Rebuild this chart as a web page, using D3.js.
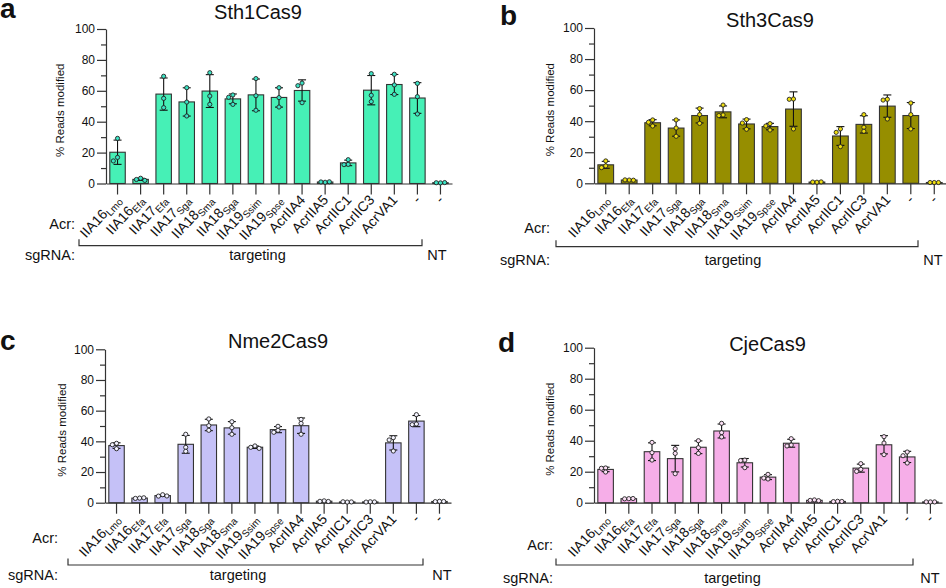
<!DOCTYPE html>
<html>
<head>
<meta charset="utf-8">
<script src="https://cdn.jsdelivr.net/npm/d3@7"></script>
<style>
  body { margin: 0; background: #fff; }
  svg text { font-family: "Liberation Sans", Arial, sans-serif; fill: #111; }
</style>
</head>
<body>
<script>
// Tick labels: [main, subscript]
const labelsA = [["IIA16", "Lmo"], ["IIA16", "Efa"], ["IIA17", "Efa"], ["IIA17", "Sga"], ["IIA18", "Sma"], ["IIA18", "Sga"],
  ["IIA19", "Ssim"], ["IIA19", "Spse"], ["AcrIIA4", ""], ["AcrIIA5", ""], ["AcrIIC1", ""], ["AcrIIC3", ""], ["AcrVA1", ""], ["-", ""], ["-", ""]];
const labelsB = [["IIA16", "Lmo"], ["IIA16", "Efa"], ["IIA17", "Efa"], ["IIA17", "Sga"], ["IIA18", "Sga"], ["IIA18", "Sma"],
  ["IIA19", "Ssim"], ["IIA19", "Spse"], ["AcrIIA4", ""], ["AcrIIA5", ""], ["AcrIIC1", ""], ["AcrIIC3", ""], ["AcrVA1", ""], ["-", ""], ["-", ""]];

const titles = ["Sth1Cas9", "Sth3Cas9", "Nme2Cas9", "CjeCas9"];
const yTicks = [0, 20, 40, 60, 80, 100];
const yMinor = [10, 30, 50, 70, 90];

// replicate values (% reads modified), three per condition
const repsSth1 = [[29.2, 16.9, 14.6], [3.4, 2.6, 2.0], [69.4, 55.1, 49.1], [62.0, 52.7, 43.7], [71.7, 56.6, 51.2], [57.3, 55.8, 51.2],
  [67.9, 56.8, 47.4], [62.0, 55.6, 49.5], [65.0, 63.3, 52.3], [0.8, 1.0, 1.1], [15.4, 12.4, 12.2], [71.1, 57.1, 53.0],
  [70.7, 63.8, 57.7], [64.8, 56.2, 45.0], [0.4, 0.5, 0.6]];
const repsSth3 = [[14.4, 11.2, 10.1], [2.1, 2.2, 2.0], [40.8, 39.3, 36.9], [40.8, 35.6, 30.3], [48.1, 44.2, 38.6], [50.4, 44.0, 43.6],
  [41.0, 38.8, 34.8], [38.4, 36.9, 34.3], [54.3, 54.1, 35.0], [0.7, 0.8, 0.9], [35.0, 32.8, 23.6], [44.2, 36.1, 33.5],
  [54.1, 53.6, 41.4], [51.7, 44.2, 35.0], [0.5, 0.5, 0.5]];
const repsNme2 = [[38.7, 37.8, 35.2], [3.0, 2.8, 3.2], [5.2, 4.3, 4.4], [44.6, 36.1, 33.5], [54.6, 50.2, 47.2], [52.8, 48.9, 44.6],
  [37.0, 36.1, 35.4], [49.8, 47.2, 45.9], [54.3, 51.7, 44.6], [1.2, 0.9, 0.8], [0.4, 0.6, 0.5], [0.6, 0.4, 0.5],
  [42.4, 40.9, 33.7], [57.4, 51.3, 50.9], [0.9, 0.7, 0.8]];
const repsCje = [[22.4, 22.2, 19.8], [2.6, 2.5, 2.7], [38.9, 32.3, 27.5], [34.8, 31.8, 18.7], [40.0, 35.5, 31.8], [51.2, 45.2, 42.4],
  [27.5, 27.2, 22.6], [18.3, 15.9, 15.3], [41.3, 37.2, 36.6], [1.8, 1.5, 1.3], [0.9, 0.7, 0.8], [25.2, 21.5, 20.2],
  [42.6, 38.5, 31.0], [32.7, 30.3, 25.6], [0.5, 0.5, 0.5]];

const panels = [
  { letter: "a", title: titles[0], labels: labelsA, reps: repsSth1, fill: "#46F0B6", dot: "#3CE3C4",
    x0: 106, x1: 452, y0: 183.5, y100: 29, titleX: 258, titleY: 19, letterX: 0, letterY: 18, ylabX: 64,
    sideX: 75, acrY: 229, sgY: 260, brY: 245.7, brL: 79, brR: 422, tgX: 257.5, ntX: 437 },
  { letter: "b", title: titles[1], labels: labelsB, reps: repsSth3, fill: "#968E00", dot: "#EEDD10",
    x0: 594, x1: 946, y0: 183.3, y100: 28, titleX: 770, titleY: 27, letterX: 500, letterY: 25, ylabX: 554,
    sideX: 550, acrY: 233, sgY: 265, brY: 246.7, brL: 556, brR: 918, tgX: 733, ntX: 933 },
  { letter: "c", title: titles[2], labels: labelsB, reps: repsNme2, fill: "#C5C1F7", dot: "#F4F3FF",
    x0: 105, x1: 451, y0: 502.7, y100: 349.3, titleX: 278, titleY: 348, letterX: 0, letterY: 350, ylabX: 66,
    sideX: 58, acrY: 543, sgY: 580, brY: 565, brL: 68, brR: 423, tgX: 238, ntX: 442 },
  { letter: "d", title: titles[3], labels: labelsB, reps: repsCje, fill: "#F6AEE8", dot: "#FCE0F6",
    x0: 594, x1: 942, y0: 502.7, y100: 347.7, titleX: 767.5, titleY: 351, letterX: 498, letterY: 352, ylabX: 554,
    sideX: 553, acrY: 550, sgY: 583, brY: 565, brL: 556, brR: 913, tgX: 732.5, ntX: 930 }
];

const svg = d3.select("body").append("svg").attr("width", 946).attr("height", 588);
const ink = "#333";
const dotR = 2.1;

// place replicate dots; shift sideways only where they would overlap
function spread(vals, y, r) {
  const placed = [];
  const offs = [0, -1, 1, -2, 2];
  return vals.map(v => {
    const py = y(v);
    let off = 0;
    for (let k = 0; k < offs.length; k++) {
      off = offs[k] * r * 2;
      if (placed.every(p => Math.hypot(p[0] - off, p[1] - py) >= r * 2 - 0.3)) break;
    }
    placed.push([off, py]);
    return [off, py];
  });
}

panels.forEach(p => {
  const g = svg.append("g");
  const idx = d3.range(p.labels.length);
  const x = d3.scaleBand().domain(idx).range([p.x0, p.x1]).paddingInner(0.33).paddingOuter(0.165);
  const y = d3.scaleLinear().domain([0, 100]).range([p.y0, p.y100]);
  const bw = x.bandwidth();
  const cx = i => x(i) + bw / 2;

  g.append("text").attr("x", p.letterX).attr("y", p.letterY)
    .style("font-size", "28px").style("font-weight", "bold").text(p.letter);
  g.append("text").attr("x", p.titleX).attr("y", p.titleY).attr("text-anchor", "middle")
    .style("font-size", "20px").text(p.title);

  // y axis
  const ya = g.append("g").attr("transform", `translate(${p.x0},0)`)
    .call(d3.axisLeft(y).tickValues(yTicks).tickSize(9).tickPadding(2).tickSizeOuter(0));
  g.append("g").attr("transform", `translate(${p.x0},0)`)
    .call(d3.axisLeft(y).tickValues(yMinor).tickSize(5).tickFormat("").tickSizeOuter(0))
    .select(".domain").remove();
  ya.selectAll("text").style("font-size", "12px").style("font-family", "Liberation Sans, Arial, sans-serif").attr("fill", "#111");

  g.append("text")
    .attr("transform", `translate(${p.ylabX},${(p.y0 + p.y100) / 2 + 4}) rotate(-90)`)
    .attr("text-anchor", "middle").style("font-size", "11.5px").text("% Reads modified");

  // x axis
  g.append("g").attr("transform", `translate(0,${p.y0})`)
    .call(d3.axisBottom(x).tickSize(11).tickFormat("").tickSizeOuter(0));
  g.selectAll(".domain, .tick line").attr("stroke", ink).attr("stroke-width", 1.2);

  // bars
  const stats = p.reps.map(r => ({ m: d3.mean(r), s: d3.deviation(r) }));
  g.selectAll(".bar").data(stats).enter().append("rect")
    .attr("x", (d, i) => x(i)).attr("width", bw)
    .attr("y", d => y(d.m)).attr("height", d => p.y0 - y(d.m))
    .attr("fill", p.fill).attr("stroke", ink).attr("stroke-width", 1.1);

  // error bars (mean ± SD)
  const eb = g.selectAll(".err").data(stats).enter().append("g")
    .attr("stroke", "#111").attr("stroke-width", 1.1);
  eb.append("line").attr("x1", (d, i) => cx(i)).attr("x2", (d, i) => cx(i))
    .attr("y1", d => y(d.m + d.s)).attr("y2", d => y(Math.max(0, d.m - d.s)));
  eb.append("line").attr("x1", (d, i) => cx(i) - 4).attr("x2", (d, i) => cx(i) + 4)
    .attr("y1", d => y(d.m + d.s)).attr("y2", d => y(d.m + d.s));
  eb.append("line").attr("x1", (d, i) => cx(i) - 4).attr("x2", (d, i) => cx(i) + 4)
    .attr("y1", d => y(Math.max(0, d.m - d.s))).attr("y2", d => y(Math.max(0, d.m - d.s)));

  // replicate dots
  p.reps.forEach((r, i) => {
    g.selectAll(null).data(spread(r, y, dotR)).enter().append("circle")
      .attr("cx", d => cx(i) + d[0]).attr("cy", d => d[1]).attr("r", dotR)
      .attr("fill", p.dot).attr("stroke", "#222").attr("stroke-width", 0.9);
  });

  // rotated tick labels with subscripts
  p.labels.forEach((l, i) => {
    const t = g.append("text")
      .attr("transform", `translate(${cx(i) + 4},${p.y0 + 17}) rotate(-47)`)
      .attr("text-anchor", "end").style("font-size", "14px");
    t.append("tspan").text(l[0]);
    if (l[1]) t.append("tspan").attr("dy", 3).style("font-size", "10px").text(l[1]);
  });

  g.append("text").attr("x", p.sideX).attr("y", p.acrY).attr("text-anchor", "end")
    .style("font-size", "14.5px").text("Acr:");
  g.append("text").attr("x", p.sideX).attr("y", p.sgY).attr("text-anchor", "end")
    .style("font-size", "14.5px").text("sgRNA:");

  g.append("path")
    .attr("d", `M${p.brL},${p.brY - 6.5}V${p.brY}H${p.brR}V${p.brY - 6.5}`)
    .attr("fill", "none").attr("stroke", ink).attr("stroke-width", 1.2);
  g.append("text").attr("x", p.tgX).attr("y", p.sgY).attr("text-anchor", "middle")
    .style("font-size", "14.5px").text("targeting");
  g.append("text").attr("x", p.ntX).attr("y", p.sgY).attr("text-anchor", "middle")
    .style("font-size", "14.5px").text("NT");
});
</script>
</body>
</html>
